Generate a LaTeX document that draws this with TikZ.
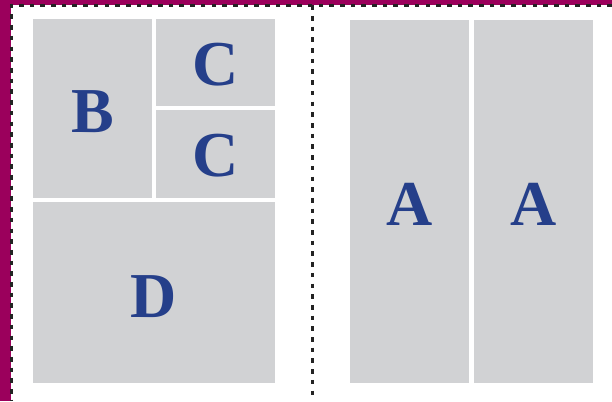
\documentclass[tikz,border=0pt]{standalone}
\usepackage{fontspec}
\setmainfont{Liberation Serif}
\definecolor{magband}{RGB}{155,0,92}
\definecolor{panelgray}{RGB}{209,210,212}
\definecolor{letterblue}{RGB}{37,63,138}
\definecolor{dashgray}{RGB}{35,35,35}
\tikzset{
  panel/.style={fill=panelgray, draw=none},
  lettr/.style={text=letterblue, font=\fontsize{64}{64}\selectfont\bfseries, anchor=base, inner sep=0pt},
  cutline/.style={draw=dashgray, line width=2.6pt, dash pattern=on 4.6pt off 6.1pt}
}
\begin{document}
\begin{tikzpicture}[x=1pt,y=-1pt]
\useasboundingbox (0,0) rectangle (612,401);
\fill[white] (0,0) rectangle (612,401);
% magenta bands
\fill[magband] (0,0) rectangle (612,5);
\fill[magband] (0,0) rectangle (10.5,401);
% panels
\fill[panel] (33,19) rectangle (152,198);
\fill[panel] (156,19) rectangle (275,106);
\fill[panel] (156,110) rectangle (275,198);
\fill[panel] (33,202) rectangle (275,383);
\fill[panel] (350,20) rectangle (469,383);
\fill[panel] (474,20) rectangle (593,383);
% letters
\node[lettr] (b) at (92.5,132) {B};
\node[lettr] (c1) at (215.5,85) {C};
\node[lettr] (c2) at (215.5,176.5) {C};
\node[lettr] (d) at (154,317) {D};
\node[lettr] (a1) at (409.5,225) {A};
\node[lettr] (a2) at (533.5,225) {A};
% cut lines
\coordinate (tl) at (11.3,5.3);
\coordinate (tr) at (612,5.3);
\coordinate (bl) at (11.3,401);
\coordinate (mt) at (312.2,5.3);
\coordinate (mb) at (312.2,401);
\draw[cutline] (tr) -- (tl) -- (bl);
\draw[cutline] (mt) -- (mb);
\end{tikzpicture}
\end{document}
